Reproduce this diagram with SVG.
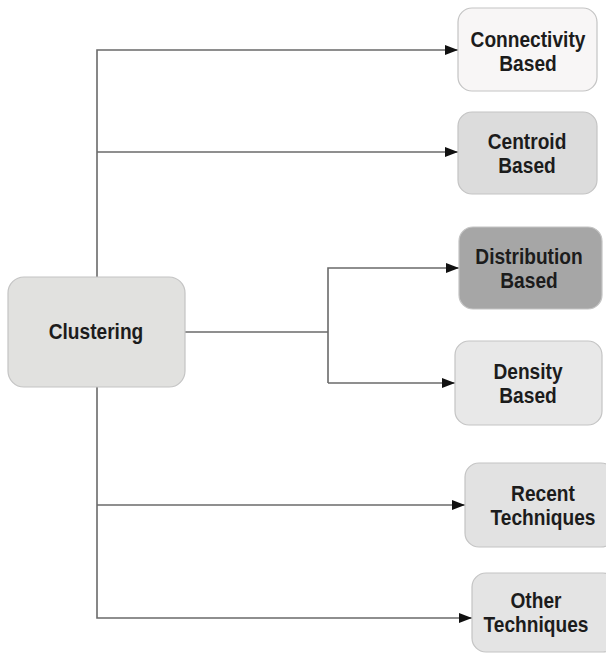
<svg xmlns="http://www.w3.org/2000/svg" width="606" height="654" viewBox="0 0 606 654">
<defs>
<style>
.box{stroke:#c4c4c4;stroke-width:1.2}
.lbl{font-family:"Liberation Sans",Arial,sans-serif;font-weight:700;font-size:22px;fill:#1c1c1c;text-anchor:middle}
.con{fill:none;stroke:#6a6a6a;stroke-width:1.6}
</style>
<marker id="arr" markerUnits="userSpaceOnUse" markerWidth="14" markerHeight="10" refX="13" refY="5" orient="auto">
<path d="M0,0 L13,5 L0,10 z" fill="#111"/>
</marker>
</defs>
<rect width="606" height="654" fill="#ffffff"/>
<g id="connectors">
<path class="con" d="M97,277 V50 H458" marker-end="url(#arr)"/>
<path class="con" d="M97,152 H458" marker-end="url(#arr)"/>
<path class="con" d="M97,387 V618 H472" marker-end="url(#arr)"/>
<path class="con" d="M97,505 H465" marker-end="url(#arr)"/>
<path class="con" d="M185,332 H328"/>
<path class="con" d="M328,383 V268 H459" marker-end="url(#arr)"/>
<path class="con" d="M328,383 H455" marker-end="url(#arr)"/>
</g>
<g id="clustering">
<rect class="box" x="8" y="277" width="177" height="110" rx="16" fill="#e1e1df"/>
<text class="lbl" transform="translate(96 0) scale(0.87 1)" x="0" y="339">Clustering</text>
</g>
<g id="connectivity">
<rect class="box" x="458" y="8" width="139" height="83" rx="14" fill="#f8f6f6"/>
<text class="lbl" transform="translate(528 0) scale(0.87 1)" x="0" y="47">Connectivity</text>
<text class="lbl" transform="translate(528 0) scale(0.87 1)" x="0" y="71">Based</text>
</g>
<g id="centroid">
<rect class="box" x="458" y="112" width="139" height="82" rx="14" fill="#dcdcdc"/>
<text class="lbl" transform="translate(527 0) scale(0.87 1)" x="0" y="149">Centroid</text>
<text class="lbl" transform="translate(527 0) scale(0.87 1)" x="0" y="173">Based</text>
</g>
<g id="distribution">
<rect class="box" x="459" y="227" width="143" height="82" rx="14" fill="#a6a6a6"/>
<text class="lbl" transform="translate(529 0) scale(0.87 1)" x="0" y="264">Distribution</text>
<text class="lbl" transform="translate(529 0) scale(0.87 1)" x="0" y="288">Based</text>
</g>
<g id="density">
<rect class="box" x="455" y="341" width="147" height="84" rx="14" fill="#e8e8e8"/>
<text class="lbl" transform="translate(528 0) scale(0.87 1)" x="0" y="379">Density</text>
<text class="lbl" transform="translate(528 0) scale(0.87 1)" x="0" y="403">Based</text>
</g>
<g id="recent">
<rect class="box" x="465" y="463" width="150" height="84" rx="14" fill="#e2e2e2"/>
<text class="lbl" transform="translate(543 0) scale(0.87 1)" x="0" y="501">Recent</text>
<text class="lbl" transform="translate(543 0) scale(0.87 1)" x="0" y="525">Techniques</text>
</g>
<g id="other">
<rect class="box" x="472" y="573" width="145" height="79" rx="14" fill="#e4e4e4"/>
<text class="lbl" transform="translate(536 0) scale(0.87 1)" x="0" y="608">Other</text>
<text class="lbl" transform="translate(536 0) scale(0.87 1)" x="0" y="632">Techniques</text>
</g>
</svg>
